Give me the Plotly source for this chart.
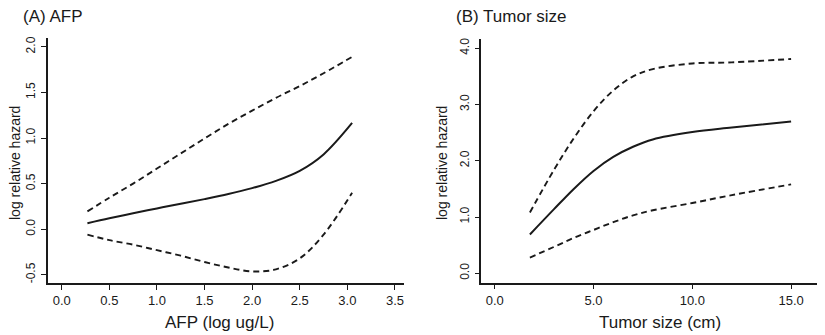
import plotly.graph_objects as go

# Panel A: AFP (log ug/L)
afp_x = [0.27, 0.5, 0.75, 1.0, 1.25, 1.5, 1.75, 2.0, 2.25, 2.5, 2.75, 3.05]
afp_fit = [0.066, 0.12, 0.175, 0.228, 0.279, 0.33, 0.385, 0.45, 0.53, 0.64, 0.82, 1.165]
afp_upper = [0.195, 0.345, 0.50, 0.665, 0.83, 0.995, 1.155, 1.30, 1.44, 1.57, 1.71, 1.89]
afp_lower = [-0.06, -0.12, -0.17, -0.23, -0.29, -0.36, -0.42, -0.463, -0.44, -0.32, -0.06, 0.40]

# Panel B: Tumor size (cm)
ts_x = [1.78, 3.0, 4.0, 5.0, 6.0, 7.0, 8.0, 10.0, 12.0, 15.0]
ts_fit = [0.69, 1.14, 1.50, 1.82, 2.07, 2.25, 2.38, 2.51, 2.59, 2.70]
ts_upper = [1.08, 1.84, 2.40, 2.88, 3.25, 3.50, 3.63, 3.73, 3.75, 3.81]
ts_lower = [0.28, 0.47, 0.63, 0.77, 0.91, 1.03, 1.12, 1.25, 1.39, 1.58]

afp_xticks = [0.0, 0.5, 1.0, 1.5, 2.0, 2.5, 3.0, 3.5]
afp_yticks = [-0.5, 0.0, 0.5, 1.0, 1.5, 2.0]
ts_xticks = [0.0, 5.0, 10.0, 15.0]
ts_yticks = [0.0, 1.0, 2.0, 3.0, 4.0]

FONT = "Liberation Sans, Arial, sans-serif"
INK = "#1a1a1a"

# page body has an 8px margin; figure is sized to fit inside the window
OFF = 8
W, H = 825 - OFF, 335 - OFF

def px(x):
    return (x - OFF) / W

def py(y):
    return 1 - (y - OFF) / H

fig = go.Figure()

def add_panel(x, fit, up, lo, xa, ya):
    for yy, dash, w in [(up, "6px,4px", 1.9), (lo, "6px,4px", 1.9), (fit, "solid", 2.0)]:
        fig.add_trace(go.Scatter(x=x, y=yy, mode="lines", xaxis=xa, yaxis=ya,
                                 line=dict(color=INK, width=w, dash=dash, shape="spline", smoothing=1.0),
                                 showlegend=False, hoverinfo="skip"))

add_panel(afp_x, afp_fit, afp_upper, afp_lower, "x", "y")
add_panel(ts_x, ts_fit, ts_upper, ts_lower, "x2", "y2")

axis_common = dict(showline=True, linecolor=INK, linewidth=1.5, ticks="outside",
                   ticklen=5, tickwidth=1.3, tickcolor=INK, showgrid=False, zeroline=False,
                   mirror=False)
xfont = dict(family=FONT, size=13, color=INK)
yfont = dict(family=FONT, size=12, color=INK)

fig.update_layout(
    width=W, height=H, margin=dict(l=0, r=0, t=0, b=0),
    paper_bgcolor="white", plot_bgcolor="white",
    xaxis=dict(domain=[px(48), px(404)], range=[-0.144, 3.595], anchor="y",
               tickvals=afp_xticks, ticktext=[f"{v:.1f}" for v in afp_xticks], tickfont=xfont, **axis_common),
    yaxis=dict(domain=[py(283), py(37.7)], range=[-0.59, 2.1], anchor="x",
               tickvals=afp_yticks, ticktext=[f"{v:.1f}" for v in afp_yticks], tickfont=yfont,
               tickangle=-90, ticklabelstandoff=1, **axis_common),
    xaxis2=dict(domain=[px(481.3), px(823.7)], range=[-0.68, 16.65], anchor="y2",
                tickvals=ts_xticks, ticktext=[f"{v:.1f}" for v in ts_xticks], tickfont=xfont, **axis_common),
    yaxis2=dict(domain=[py(282.7), py(39.3)], range=[-0.167, 4.16], anchor="x2",
                tickvals=ts_yticks, ticktext=[f"{v:.1f}" for v in ts_yticks], tickfont=yfont,
                tickangle=-90, ticklabelstandoff=1, **axis_common),
)

def ann(text, x, y, size, xanchor="center", angle=0):
    fig.add_annotation(text=text, x=px(x), y=py(y), xref="paper", yref="paper",
                       xanchor=xanchor, yanchor="middle", showarrow=False, textangle=angle,
                       font=dict(family=FONT, size=size, color=INK))

ann("(A) AFP", 21, 16, 17, xanchor="left")
ann("(B) Tumor size", 454, 16, 17, xanchor="left")
ann("AFP (log ug/L)", 219, 322, 17)
ann("Tumor size (cm)", 660, 322, 17)
ann("log relative hazard", 15, 163, 14, angle=-90)
ann("log relative hazard", 442, 163, 14, angle=-90)

fig.write_html("out.html")
